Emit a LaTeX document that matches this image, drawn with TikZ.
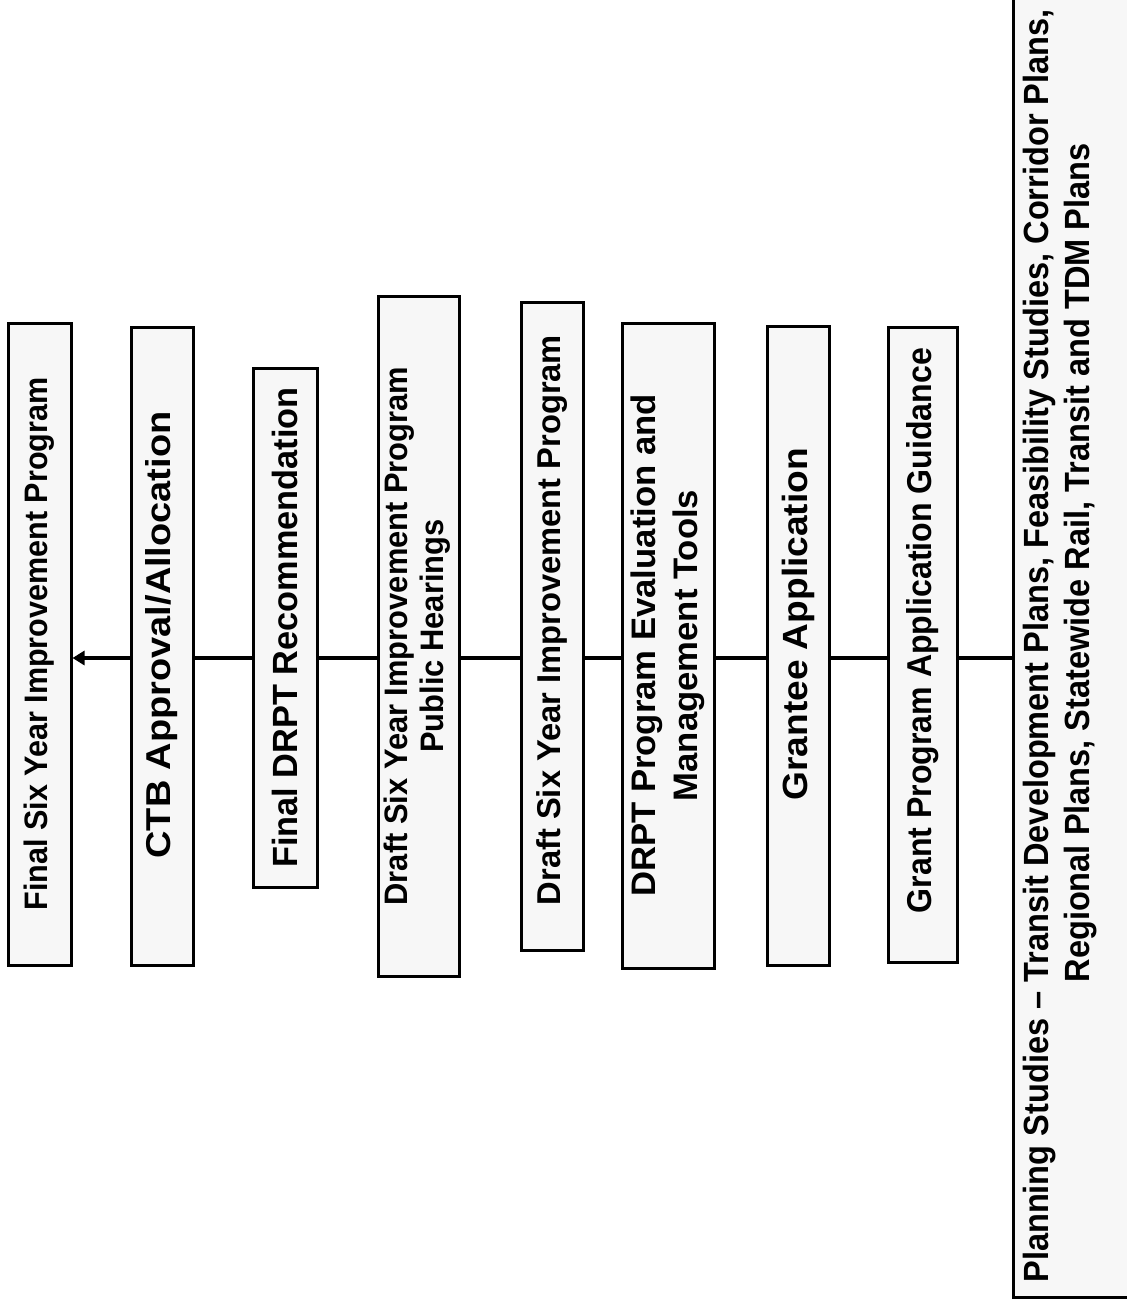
\documentclass[tikz,border=0pt]{standalone}
\usepackage{fontspec}
\setmainfont{Liberation Sans}
\newfontfamily\boxfont{Liberation Sans}
\usetikzlibrary{arrows.meta}
\newcommand\sx[2]{\scalebox{#1}[1]{#2}}
\newcommand\twol[2]{\begin{tabular}{@{}c@{}}#1\\#2\end{tabular}}
\begin{document}
\begin{tikzpicture}[x=1pt,y=-1pt,
  box/.style={draw=black, line width=3pt, fill=black!3, rotate=90, inner sep=0pt, align=center},
  fs/.style 2 args={font=\boxfont\bfseries\fontsize{#1}{#2}\selectfont},
  conn/.style={line width=4pt}]
\useasboundingbox (0,0) rectangle (1127,1299);
\fill[white] (0,0) rectangle (1127,1299);
\coordinate (L) at (0,658);
\node[box, fs={32.5}{36}, minimum width=642pt, minimum height=63pt] (b1) at (39.5,644) {\sx{0.94}{Final Six Year Improvement Program}};
\node[box, fs={34.5}{40}, minimum width=638pt, minimum height=62pt] (b2) at (162,646) {\sx{1.1}{\hspace*{20pt}CTB Approval/Allocation}};
\node[box, fs={35}{40}, minimum width=519pt, minimum height=64pt] (b3) at (285,627.5) {\sx{0.98}{Final DRPT Recommendation}};
\node[box, fs={32.5}{36}, minimum width=680pt, minimum height=81pt] (b4) at (418.5,636) {\sx{0.95}{\twol{Draft Six Year Improvement Program}{Public Hearings}}};
\node[box, fs={33}{37}, minimum width=648pt, minimum height=62pt] (b5) at (552,626) {\sx{0.99}{\hspace*{12pt}Draft Six Year Improvement Program}};
\node[box, fs={34}{42}, minimum width=645pt, minimum height=92pt] (b6) at (668,645.5) {\sx{1.02}{\twol{DRPT Program Evaluation and}{Management Tools}}};
\node[box, fs={35}{40}, minimum width=639pt, minimum height=62pt] (b7) at (798,645.5) {\sx{1.06}{\hspace*{40pt}Grantee Application}};
\node[box, fs={34.5}{38}, minimum width=635pt, minimum height=69pt] (b8) at (922.5,644.5) {\sx{0.93}{\hspace*{30pt}Grant Program Application Guidance}};
\node[box, fs={35}{41}, minimum width=1302pt, minimum height=136pt] (b9) at (1081,646)
  {\sx{0.93}{\begin{tabular}{@{}l@{}l@{}}Planning Studies – \mbox{}&Transit Development Plans, Feasibility Studies, Corridor Plans,\\
   &Regional Plans, Statewide Rail, Transit and TDM Plans\\ & \end{tabular}}};
\draw[conn] (b9.north |- L) -- (b8.south |- L);
\draw[conn] (b8.north |- L) -- (b7.south |- L);
\draw[conn] (b7.north |- L) -- (b6.south |- L);
\draw[conn] (b6.north |- L) -- (b5.south |- L);
\draw[conn] (b5.north |- L) -- (b4.south |- L);
\draw[conn] (b4.north |- L) -- (b3.south |- L);
\draw[conn] (b3.north |- L) -- (b2.south |- L);
\draw[conn, -{Triangle[length=12pt,width=14pt]}] (b2.north |- L) -- (b1.south |- L);
\end{tikzpicture}
\end{document}
